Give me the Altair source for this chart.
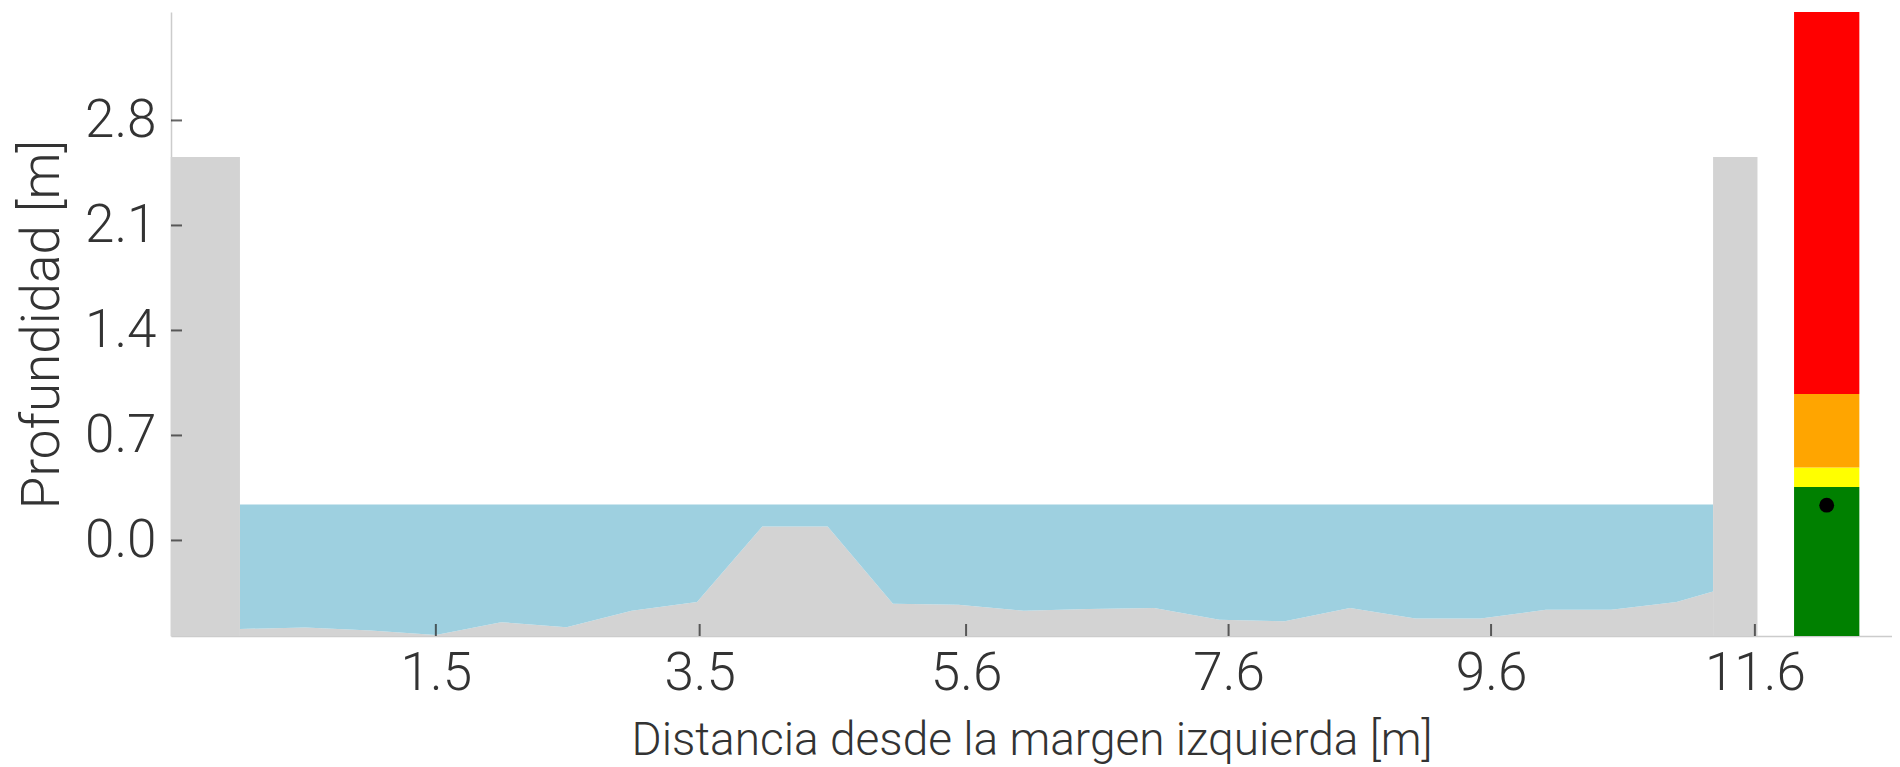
import altair as alt
import pandas as pd

# ---------------- data ----------------
bed_x = [0.0, 0.5, 1.0, 1.5, 2.0, 2.5, 3.0, 3.5, 4.0, 4.5, 5.0, 5.5, 6.0,
         6.5, 7.0, 7.5, 8.0, 8.5, 9.0, 9.5, 10.0, 10.5, 11.0, 11.28]
bed_y = [-0.59, -0.58, -0.60, -0.63, -0.545, -0.578, -0.468, -0.411, 0.093,
         0.093, -0.422, -0.429, -0.468, -0.457, -0.451, -0.528, -0.539,
         -0.451, -0.521, -0.521, -0.462, -0.462, -0.411, -0.341]
water_level = 0.24

wall_x0 = [-0.53, 11.28]
wall_x1 = [0.0, 11.62]
wall_top = 2.556

gauge_x0 = 11.90
gauge_x1 = 12.40
gauge_low = [-0.637, 0.357, 0.487, 0.977]
gauge_high = [0.357, 0.487, 0.977, 3.523]
gauge_colors = ["#008000", "#ffff00", "#ffa500", "#ff0000"]

dot_x = [12.15]
dot_y = [0.235]

x_tick_values = [1.5, 3.52, 5.56, 7.57, 9.58, 11.6]
x_tick_labels = ["1.5", "3.5", "5.6", "7.6", "9.6", "11.6"]
y_tick_values = [0.0, 0.7, 1.4, 2.1, 2.8]
y_tick_labels = ["0.0", "0.7", "1.4", "2.1", "2.8"]

x_domain = [-0.528, 12.65]
y_domain = [-0.637, 3.523]

x_title = "Distancia desde la margen izquierda [m]"
y_title = "Profundidad [m]"

# ---------------- tables ----------------
bed_df = pd.DataFrame({"x": bed_x, "y": bed_y, "w": [water_level] * len(bed_x),
                       "base": [y_domain[0]] * len(bed_x)})
wall_df = pd.DataFrame({"x": wall_x0, "x2": wall_x1,
                        "y": [y_domain[0]] * 2, "y2": [wall_top] * 2})
gauge_df = pd.DataFrame({"x": [gauge_x0] * 4, "x2": [gauge_x1] * 4,
                         "y": gauge_low, "y2": gauge_high, "c": gauge_colors})
dot_df = pd.DataFrame({"x": dot_x, "y": dot_y})
xt_df = pd.DataFrame({"x": x_tick_values})
yt_df = pd.DataFrame({"y": y_tick_values})

FONT = "Roboto"
TXT = "#333333"

xs = alt.Scale(domain=x_domain, nice=False, zero=False)
ys = alt.Scale(domain=y_domain, nice=False, zero=False)

x_axis = alt.Axis(
    title=x_title, values=x_tick_values,
    labelExpr=f"{x_tick_labels}[indexof({x_tick_values}, datum.value)]",
    ticks=False, grid=False, domainColor="#cccccc", domainWidth=1.5,
    labelFont=FONT, labelFontSize=53, labelFontWeight=300, labelColor=TXT,
    labelPadding=11, titleFont=FONT, titleFontSize=46, titleFontWeight=300,
    titleColor=TXT, titlePadding=18, labelFlush=False,
)
y_axis = alt.Axis(
    title=y_title, values=y_tick_values,
    labelExpr=f"{y_tick_labels}[indexof({y_tick_values}, datum.value)]",
    ticks=False, grid=False, domainColor="#cccccc", domainWidth=1.5,
    labelFont=FONT, labelFontSize=53, labelFontWeight=300, labelColor=TXT,
    labelPadding=15, titleFont=FONT, titleFontSize=53, titleFontWeight=300,
    titleColor=TXT, titlePadding=15, labelFlush=False,
)


def X(field):
    return alt.X(field, scale=xs, axis=x_axis, title=x_title)


def Y(field):
    return alt.Y(field, scale=ys, axis=y_axis, title=y_title)


ground = alt.Chart(bed_df).mark_area(color="#d3d3d3", opacity=1).encode(
    x=X("x:Q"), y=Y("y:Q"), y2="base:Q",
)
water = alt.Chart(bed_df).mark_area(color="#9ed0e0", opacity=1).encode(
    x=X("x:Q"), y=Y("w:Q"), y2="y:Q",
)
walls = alt.Chart(wall_df).mark_rect(color="#d3d3d3").encode(
    x=X("x:Q"), x2="x2:Q", y=Y("y:Q"), y2="y2:Q",
)
gauge = alt.Chart(gauge_df).mark_rect().encode(
    x=X("x:Q"), x2="x2:Q", y=Y("y:Q"), y2="y2:Q",
    color=alt.Color("c:N", scale=None, legend=None),
)
dot = alt.Chart(dot_df).mark_circle(color="black", size=220, opacity=1).encode(
    x=X("x:Q"), y=Y("y:Q"),
)
xticks = alt.Chart(xt_df).mark_tick(orient="vertical", size=12, thickness=2,
                                    color="#222222", yOffset=-6).encode(
    x=X("x:Q"),
    y=alt.datum(y_domain[0], scale=ys, axis=y_axis),
)
yticks = alt.Chart(yt_df).mark_tick(orient="horizontal", size=11, thickness=2,
                                    color="#222222", xOffset=5.5).encode(
    y=Y("y:Q"),
    x=alt.datum(x_domain[0], scale=xs, axis=x_axis),
)

chart = alt.layer(ground, water, walls, gauge, dot, xticks, yticks).properties(
    width=1721, height=624,
    autosize=alt.AutoSizeParams(type="none"),
    padding={"left": 163, "top": 4, "right": 0, "bottom": 131},
).configure_view(stroke=None)

chart.save("out.html", embed_options={"renderer": "svg", "actions": False})
